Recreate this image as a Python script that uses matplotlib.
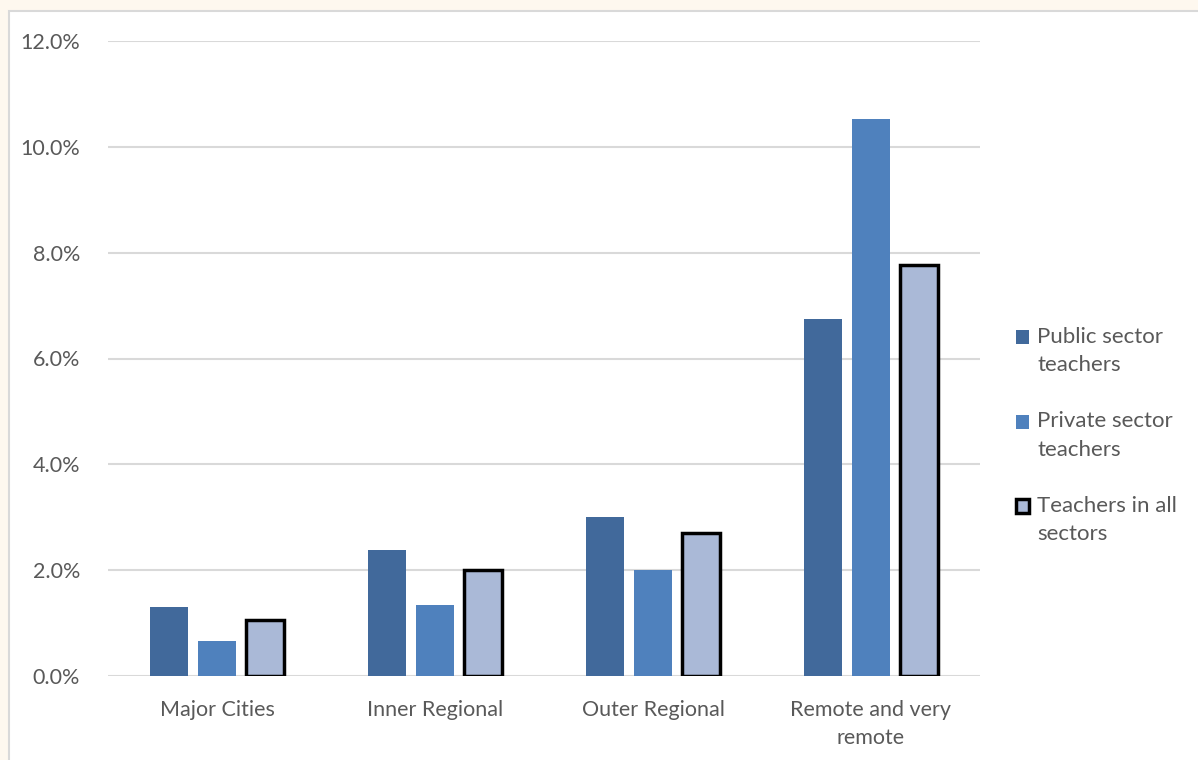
import matplotlib.pyplot as plt
import numpy as np
from matplotlib.patches import Patch, Rectangle
from matplotlib.legend_handler import HandlerPatch
from matplotlib.ticker import FuncFormatter

plt.rcParams['font.family'] = ['Lato', 'DejaVu Sans']

categories = ['Major Cities', 'Inner Regional', 'Outer Regional', 'Remote and very\nremote']
public_sector = [1.30, 2.38, 3.00, 6.75]
private_sector = [0.66, 1.34, 2.01, 10.53]
all_sectors = [1.06, 2.01, 2.70, 7.77]
series_names = ['Public sector\nteachers', 'Private sector\nteachers', 'Teachers in all\nsectors']

text_color = '#595959'
grid_color = '#D9D9D9'
colors = ['#41699B', '#4F81BD', '#AAB9D7']


# put the legend square next to the first text line, like Excel does
class TopHandler(HandlerPatch):
    def create_artists(self, legend, orig_handle, xdescent, ydescent,
                       width, height, fontsize, trans):
        p = Rectangle((-xdescent, -ydescent + 10), width, height)
        self.update_prop(p, orig_handle, legend)
        p.set_transform(trans)
        return [p]


fig = plt.figure(figsize=(11.98, 7.6), dpi=100)
fig.patch.set_facecolor('#FEF8EF')
fig.patches.append(Rectangle((9 / 1198, -0.01), 1.0, 1 - 11 / 760 + 0.01,
                             transform=fig.transFigure, facecolor='white',
                             edgecolor=grid_color, linewidth=1.5, zorder=-10))

ax = fig.add_axes([108 / 1198, 1 - 676 / 760, (980 - 108) / 1198, (676 - 41) / 760])
ax.set_facecolor('none')

x = np.arange(len(categories))
w = 0.174
step = 0.222
ax.bar(x - step, public_sector, w, color=colors[0], zorder=3)
ax.bar(x, private_sector, w, color=colors[1], zorder=3)
ax.bar(x + step, all_sectors, w, color=colors[2], edgecolor='black', linewidth=2.5, zorder=3)

ax.set_xlim(-0.5, len(categories) - 0.5)
ax.set_ylim(0, 12)
ax.set_yticks(np.arange(0, 12.1, 2))
ax.yaxis.set_major_formatter(FuncFormatter(lambda v, _: f'{v:.1f}%'))
ax.set_xticks(x)
ax.set_xticklabels(categories, linespacing=1.5)
ax.grid(axis='y', color=grid_color, linewidth=1.5, zorder=0)
for s in ['top', 'right', 'left', 'bottom']:
    ax.spines[s].set_visible(False)
ax.tick_params(axis='both', length=0, labelsize=15.5, colors=text_color)
ax.tick_params(axis='y', pad=20)
ax.tick_params(axis='x', pad=17)

handles = [Patch(facecolor=colors[0]), Patch(facecolor=colors[1]),
           Patch(facecolor=colors[2], edgecolor='black', linewidth=2.5)]
leg = fig.legend(handles, series_names, loc='upper left',
                 bbox_to_anchor=(1007 / 1198, 1 - 318 / 760), frameon=False,
                 fontsize=16, handlelength=0.6, handleheight=0.6,
                 handletextpad=0.35, labelspacing=1.62, borderaxespad=0,
                 handler_map={Patch: TopHandler()})
for t in leg.get_texts():
    t.set_color(text_color)
    t.set_linespacing(1.52)

fig.savefig('out.png', dpi=100, facecolor=fig.get_facecolor())
